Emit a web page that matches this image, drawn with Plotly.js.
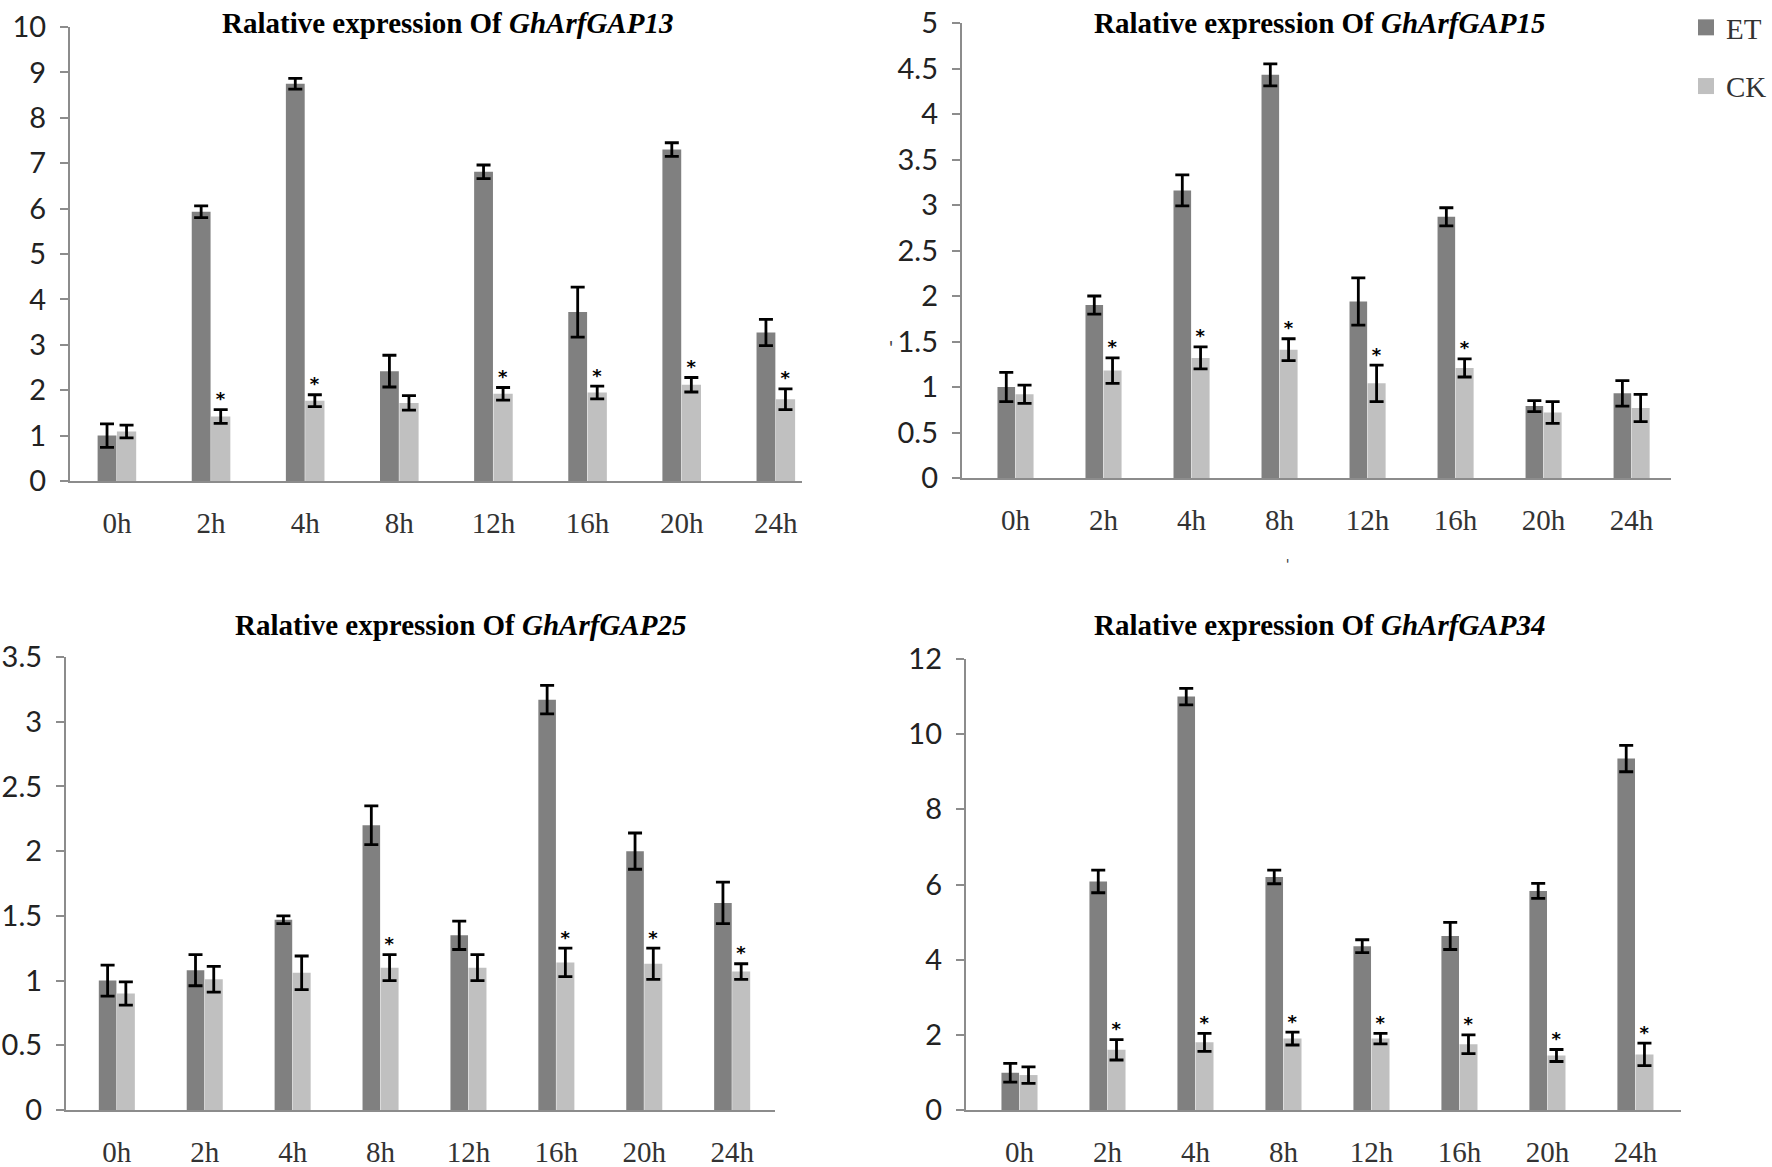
<!DOCTYPE html>
<html>
<head>
<meta charset="utf-8">
<script src="https://cdn.plot.ly/plotly-3.0.1.min.js"></script>
<style>html,body{margin:0;padding:0;background:#fff;}#chart{width:1772px;height:1167px;}</style>
</head>
<body>
<div id="chart"></div>
<script>
const categories = ['0h','2h','4h','8h','12h','16h','20h','24h'];

const et13 = [1.0, 5.93, 8.75, 2.42, 6.81, 3.72, 7.3, 3.27];
const et13Err = [0.26, 0.13, 0.12, 0.35, 0.15, 0.55, 0.15, 0.29];
const ck13 = [1.09, 1.42, 1.77, 1.72, 1.92, 1.95, 2.12, 1.8];
const ck13Err = [0.14, 0.15, 0.13, 0.16, 0.14, 0.14, 0.16, 0.23];
const star13 = [0, 1, 1, 0, 1, 1, 1, 1];

const et15 = [1.0, 1.9, 3.16, 4.43, 1.94, 2.87, 0.79, 0.93];
const et15Err = [0.16, 0.1, 0.17, 0.12, 0.26, 0.1, 0.06, 0.14];
const ck15 = [0.92, 1.18, 1.32, 1.41, 1.04, 1.21, 0.72, 0.77];
const ck15Err = [0.1, 0.14, 0.12, 0.12, 0.2, 0.1, 0.12, 0.15];
const star15 = [0, 1, 1, 1, 1, 1, 0, 0];

const et25 = [1.0, 1.08, 1.47, 2.2, 1.35, 3.17, 2.0, 1.6];
const et25Err = [0.12, 0.12, 0.03, 0.15, 0.11, 0.11, 0.14, 0.16];
const ck25 = [0.9, 1.01, 1.06, 1.1, 1.1, 1.14, 1.13, 1.07];
const ck25Err = [0.09, 0.1, 0.13, 0.1, 0.1, 0.11, 0.12, 0.06];
const star25 = [0, 0, 0, 1, 0, 1, 1, 1];

const et34 = [0.99, 6.08, 11.0, 6.2, 4.36, 4.63, 5.83, 9.35];
const et34Err = [0.25, 0.3, 0.22, 0.18, 0.17, 0.36, 0.2, 0.35];
const ck34 = [0.93, 1.6, 1.8, 1.9, 1.9, 1.75, 1.45, 1.48];
const ck34Err = [0.22, 0.27, 0.24, 0.17, 0.14, 0.25, 0.16, 0.3];
const star34 = [0, 1, 1, 1, 1, 1, 1, 1];

const genes = ['GhArfGAP13', 'GhArfGAP15', 'GhArfGAP25', 'GhArfGAP34'];
const seriesNames = ['ET', 'CK'];

const ET_COLOR = '#808080';
const CK_COLOR = '#c0c0c0';
const idx = categories.map((c, i) => i);

const panels = [
  {et: et13, etE: et13Err, ck: ck13, ckE: ck13Err, st: star13},
  {et: et15, etE: et15Err, ck: ck15, ckE: ck15Err, st: star15},
  {et: et25, etE: et25Err, ck: ck25, ckE: ck25Err, st: star25},
  {et: et34, etE: et34Err, ck: ck34, ckE: ck34Err, st: star34}
];

const traces = [];
panels.forEach((p, k) => {
  const xa = k === 0 ? 'x' : 'x' + (k + 1);
  const ya = k === 0 ? 'y' : 'y' + (k + 1);
  traces.push({
    type: 'bar', x: idx, y: p.et, name: seriesNames[0], legendgroup: 'ET',
    showlegend: false, offset: -0.205, width: 0.2, xaxis: xa, yaxis: ya,
    marker: {color: ET_COLOR},
    error_y: {type: 'data', array: p.etE, visible: true, color: '#000', thickness: 2.8, width: 7}
  });
  traces.push({
    type: 'bar', x: idx, y: p.ck, name: seriesNames[1], legendgroup: 'CK',
    showlegend: false, offset: 0, width: 0.205, xaxis: xa, yaxis: ya,
    marker: {color: CK_COLOR},
    error_y: {type: 'data', array: p.ckE, visible: true, color: '#000', thickness: 2.8, width: 7}
  });
  const sx = [], sy = [];
  p.st.forEach((s, i) => { if (s) { sx.push(i + 0.1); sy.push(p.ck[i] + p.ckE[i]); } });
  traces.push({
    type: 'scatter', mode: 'text', x: sx, y: sy, text: sx.map(() => '*'),
    textposition: 'top center', showlegend: false, hoverinfo: 'skip',
    textfont: {family: 'DejaVu Sans, sans-serif', size: 18, color: '#000', weight: 'bold'},
    xaxis: xa, yaxis: ya, cliponaxis: false
  });
});

// legend entries (larger square swatches like the reference)
[[seriesNames[0], ET_COLOR], [seriesNames[1], CK_COLOR]].forEach(([n, c]) => {
  traces.push({
    type: 'scatter', mode: 'markers', x: [null], y: [null], name: n, legendgroup: n,
    marker: {symbol: 'square', size: 18, color: c}, showlegend: true, hoverinfo: 'skip'
  });
});

const W = 1772, H = 1167;
function xd(a, b) { return [a / W, b / W]; }
function yd(top, bottom) { return [1 - bottom / H, 1 - top / H]; }

const tickFontY = {family: 'Lato, Open Sans, sans-serif', size: 29, color: '#222'};
const tickFontX = {family: 'Liberation Serif, serif', size: 29, color: '#333'};

function xaxisDef(dom, yref, range) {
  return {
    domain: dom, anchor: yref, range: range, tickmode: 'array', tickvals: idx, ticktext: categories,
    showline: true, linecolor: '#8c8c8c', linewidth: 2, ticks: '', showgrid: false, zeroline: false,
    tickfont: tickFontX, ticklabelstandoff: 15, fixedrange: true
  };
}
function yaxisDef(dom, xref, range, dtick) {
  return {
    domain: dom, anchor: xref, range: range, dtick: dtick, tick0: 0,
    showline: true, linecolor: '#8c8c8c', linewidth: 2, ticks: 'outside', ticklen: 8, tickcolor: '#8c8c8c', tickwidth: 2,
    showgrid: false, zeroline: false, tickfont: tickFontY, ticklabelstandoff: 8, fixedrange: true
  };
}

const titleFont = {family: 'Liberation Serif, serif', size: 29, color: '#000'};
function titleAnn(gene, xpx, ypx) {
  return {
    text: '<b>Ralative expression Of </b><b><i>' + gene + '</i></b>',
    xref: 'paper', yref: 'paper', x: xpx / W, y: 1 - ypx / H, xanchor: 'center', yanchor: 'middle',
    showarrow: false, font: titleFont
  };
}

const layout = {
  width: W, height: H,
  margin: {l: 0, r: 0, t: 0, b: 0},
  paper_bgcolor: '#fff', plot_bgcolor: '#fff',
  barmode: 'overlay',
  xaxis: xaxisDef(xd(70, 804), 'y', [-0.5, 7.28]),
  yaxis: yaxisDef(yd(27, 481), 'x', [0, 10], 1),
  xaxis2: xaxisDef(xd(964, 1675), 'y2', [-0.61, 7.45]),
  yaxis2: yaxisDef(yd(23, 478), 'x2', [0, 5], 0.5),
  xaxis3: xaxisDef(xd(66, 777), 'y3', [-0.58, 7.49]),
  yaxis3: yaxisDef(yd(657, 1110), 'x3', [0, 3.5], 0.5),
  xaxis4: xaxisDef(xd(968, 1685), 'y4', [-0.61, 7.52]),
  yaxis4: yaxisDef(yd(659, 1110), 'x4', [0, 12], 2),
  showlegend: true,
  legend: {
    x: 1690 / W, y: 1 - 2 / H, xanchor: 'left', yanchor: 'top',
    font: {family: 'Liberation Serif, serif', size: 29, color: '#333'},
    traceorder: 'grouped', tracegroupgap: 18, bgcolor: 'rgba(0,0,0,0)', itemwidth: 30
  },
  annotations: [
    titleAnn(genes[0], 449, 23),
    titleAnn(genes[1], 1322, 23),
    titleAnn(genes[2], 462, 625),
    titleAnn(genes[3], 1322, 625),
    {text: "'", xref: 'paper', yref: 'paper', x: 897 / W, y: 1 - 333 / H, xanchor: 'right', showarrow: false,
     font: {family: 'Lato, sans-serif', size: 20, color: '#444'}},
    {text: "'", xref: 'paper', yref: 'paper', x: 1294 / W, y: 1 - 563 / H, showarrow: false,
     font: {family: 'Lato, sans-serif', size: 16, color: '#444'}}
  ]
};

Plotly.newPlot('chart', traces, layout, {staticPlot: true, displayModeBar: false});
</script>
</body>
</html>
